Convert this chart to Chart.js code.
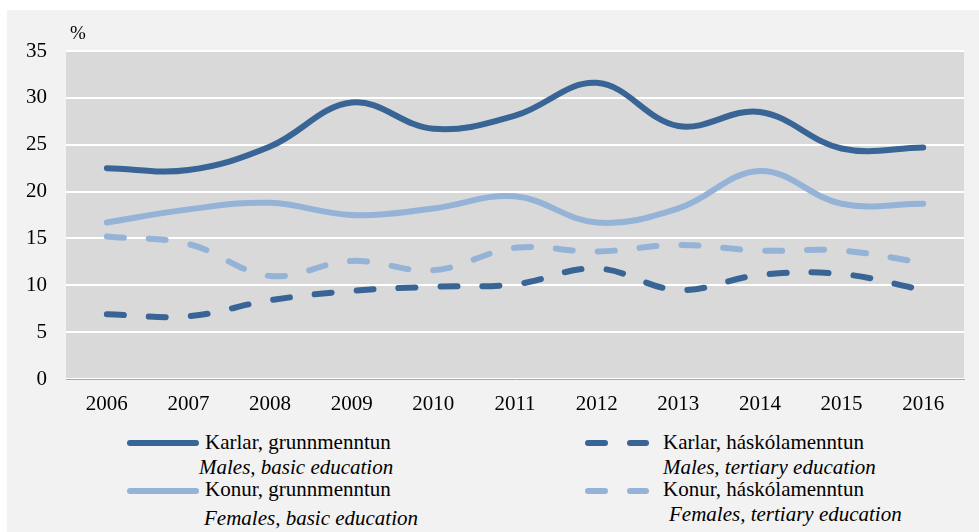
<!DOCTYPE html>
<html>
<head>
<meta charset="utf-8">
<script src="https://cdn.jsdelivr.net/npm/chart.js@4/dist/chart.umd.min.js"></script>
<style>
  html, body { margin: 0; padding: 0; background: #ffffff; width: 979px; height: 532px; overflow: hidden; }
  #panel { position: absolute; left: 7px; top: 10px; right: 0; bottom: 0; background: #f2f2f2; }
  #wrap { position: absolute; left: 0; top: 0; width: 979px; height: 420px; }
  .t { position: absolute; font-family: "Liberation Serif", "Times New Roman", Times, Tinos, "Noto Serif", "DejaVu Serif", serif; font-size: 21px; line-height: 21px; color: #000; white-space: nowrap; }
  .i { font-style: italic; }
  .ln { position: absolute; height: 6px; border-radius: 3px; }
</style>
</head>
<body>
<div id="panel"></div>
<div id="wrap"><canvas id="c" width="979" height="420"></canvas></div>
<div class="t" style="left:70px; top:22px; font-size:19px;">%</div>
<div id="legend"></div>
<script>
const years = ['2006','2007','2008','2009','2010','2011','2012','2013','2014','2015','2016'];
const malesBasic      = [22.5, 22.3, 24.8, 29.5, 26.7, 28.1, 31.6, 27.0, 28.5, 24.6, 24.7];
const malesTertiary   = [6.9, 6.7, 8.4, 9.4, 9.85, 10.1, 11.8, 9.5, 11.1, 11.2, 9.5];
const femalesBasic    = [16.7, 18.1, 18.8, 17.5, 18.2, 19.5, 16.7, 18.2, 22.2, 18.7, 18.7];
const femalesTertiary = [15.2, 14.4, 11.0, 12.6, 11.6, 14.0, 13.6, 14.3, 13.7, 13.7, 12.4];
const yTicks = [0, 5, 10, 15, 20, 25, 30, 35];

const labelsIs = ['Karlar, grunnmenntun', 'Karlar, háskólamenntun', 'Konur, grunnmenntun', 'Konur, háskólamenntun'];
const labelsEn = ['Males, basic education', 'Males, tertiary education', 'Females, basic education', 'Females, tertiary education'];

const DARK = '#386496';
const LIGHT = '#95b3d7';
const DASH = [17, 25];
const FONT = '"Liberation Serif", "Times New Roman", Times, Tinos, "Noto Serif", "DejaVu Serif", serif';

const plotBg = {
  id: 'plotBg',
  beforeDraw(chart) {
    const a = chart.chartArea, ctx = chart.ctx;
    ctx.save();
    ctx.fillStyle = '#d9d9d9';
    ctx.fillRect(a.left, a.top, a.right - a.left, a.bottom - a.top);
    ctx.restore();
  }
};

function ds(label, data, color, dashed) {
  return {
    label, data,
    borderColor: color,
    backgroundColor: color,
    borderWidth: 6,
    borderDash: dashed ? DASH : [],
    borderCapStyle: 'round',
    borderJoinStyle: 'round',
    pointRadius: 0,
    pointHoverRadius: 0,
    tension: 0.38,
    fill: false
  };
}

new Chart(document.getElementById('c'), {
  type: 'line',
  data: {
    labels: years,
    datasets: [
      ds(labelsIs[0], malesBasic, DARK, false),
      ds(labelsIs[1], malesTertiary, DARK, true),
      ds(labelsIs[2], femalesBasic, LIGHT, false),
      ds(labelsIs[3], femalesTertiary, LIGHT, true)
    ]
  },
  options: {
    responsive: false,
    animation: false,
    layout: { padding: { left: 0, right: 15, top: 51, bottom: 0 } },
    plugins: { legend: { display: false }, tooltip: { enabled: false } },
    scales: {
      x: {
        offset: true,
        grid: { display: false, drawTicks: false },
        border: { display: true, color: '#a6a6a6', width: 1 },
        ticks: { color: '#000', font: { family: FONT, size: 21 }, padding: 13, maxRotation: 0 },
        afterFit(s) { s.height = 41; }
      },
      y: {
        min: 0, max: 35,
        afterBuildTicks(s) { s.ticks = yTicks.map(v => ({ value: v })); },
        grid: { color: '#ffffff', lineWidth: 2, drawTicks: false },
        border: { display: false },
        ticks: { color: '#000', font: { family: FONT, size: 21 }, padding: 19 },
        afterFit(s) { s.width = 66; }
      }
    }
  },
  plugins: [plotBg]
});

// HTML legend
const leg = document.getElementById('legend');
function text(str, left, baseline, italic) {
  const d = document.createElement('div');
  d.className = 't' + (italic ? ' i' : '');
  d.textContent = str;
  d.style.left = left + 'px';
  d.style.top = (baseline - 17.6) + 'px';
  leg.appendChild(d);
}
function solid(x1, x2, y, color) {
  const d = document.createElement('div');
  d.className = 'ln';
  d.style.left = x1 + 'px'; d.style.width = (x2 - x1) + 'px';
  d.style.top = (y - 3) + 'px'; d.style.background = color;
  leg.appendChild(d);
}
// left column
solid(127, 199, 443, DARK);
text(labelsIs[0], 205, 450, false);
text(labelsEn[0], 199, 475, true);
solid(127, 199, 491, LIGHT);
text(labelsIs[2], 205, 497, false);
text(labelsEn[2], 204, 526, true);
// right column
solid(585, 608, 443, DARK); solid(627, 649, 443, DARK);
text(labelsIs[1], 663, 450, false);
text(labelsEn[1], 663, 475, true);
solid(585, 608, 491, LIGHT); solid(627, 649, 491, LIGHT);
text(labelsIs[3], 663, 497, false);
text(labelsEn[3], 669, 522, true);
</script>
</body>
</html>
